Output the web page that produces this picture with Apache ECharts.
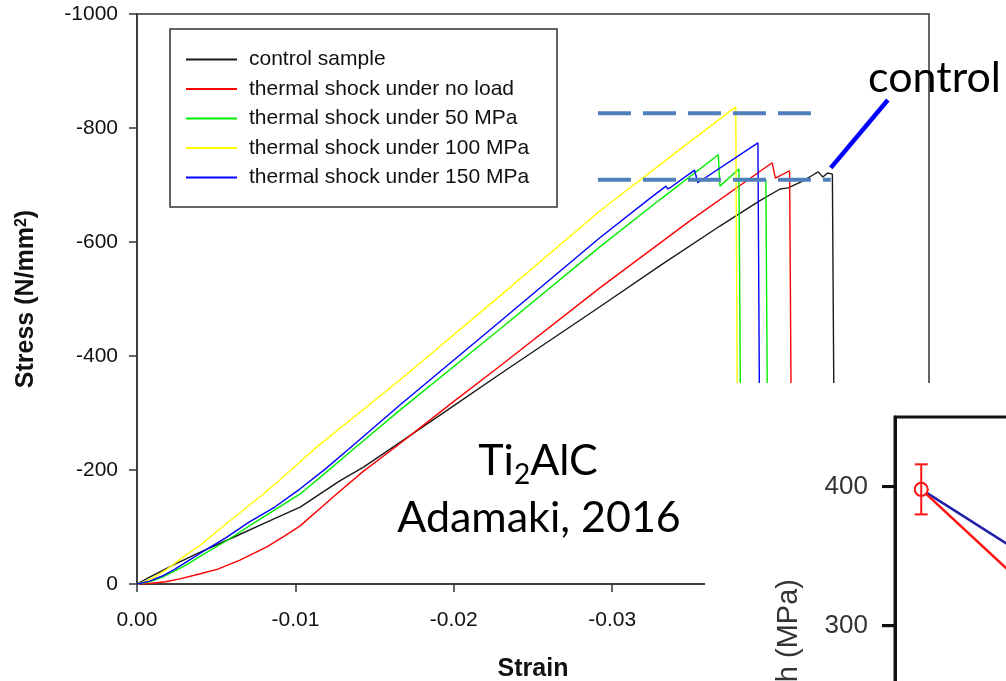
<!DOCTYPE html>
<html>
<head>
<meta charset="utf-8">
<title>Ti2AlC stress-strain</title>
<script src="https://cdn.jsdelivr.net/npm/echarts@6/dist/echarts.min.js"></script>
<style>
  html, body { margin: 0; padding: 0; background: #fff; }
  #chart { width: 1006px; height: 681px; }
</style>
</head>
<body>
<div id="chart"></div>
<script>
// Compressive stress-strain curves, [strain, stress (N/mm2)]
const controlSample = [
  [0, 0], [-0.0008, -12], [-0.0024, -35], [-0.0040, -56], [-0.0061, -82], [-0.0084, -111],
  [-0.0103, -135], [-0.0128, -181], [-0.0143, -205], [-0.0160, -237], [-0.0198, -309],
  [-0.0229, -368], [-0.0292, -486], [-0.0330, -558], [-0.0368, -628], [-0.0393, -672],
  [-0.0406, -693], [-0.0411, -695], [-0.0419, -705], [-0.0427, -718], [-0.0430, -723],
  [-0.0433, -714], [-0.0436, -721], [-0.0439, -719], [-0.0440, -300]
];
const shockNoLoad = [
  [0, 0], [-0.0008, -1], [-0.0018, -4], [-0.0027, -9], [-0.0040, -18], [-0.0051, -26],
  [-0.0065, -42], [-0.0082, -65], [-0.0093, -84], [-0.0103, -102], [-0.0124, -153],
  [-0.0143, -198], [-0.0163, -240], [-0.0198, -316], [-0.0229, -382], [-0.0292, -519],
  [-0.0349, -637], [-0.0401, -739], [-0.0403, -712], [-0.0412, -725], [-0.0413, -300]
];
const shock50 = [
  [0, 0], [-0.0008, -4], [-0.0016, -12], [-0.0024, -23], [-0.0032, -35], [-0.0040, -49],
  [-0.0056, -75], [-0.0071, -102], [-0.0087, -130], [-0.0103, -158], [-0.0119, -195],
  [-0.0136, -235], [-0.0166, -305], [-0.0229, -447], [-0.0292, -591], [-0.0330, -674],
  [-0.0367, -753], [-0.0368, -698], [-0.0380, -728], [-0.0381, -300],
  null,
  [-0.0381, -709], [-0.0397, -709], [-0.0398, -300]
];
const shock100 = [
  [0, 0], [-0.0005, -4], [-0.0011, -12], [-0.0019, -26], [-0.0030, -49], [-0.0040, -68],
  [-0.0052, -96], [-0.0065, -125], [-0.0078, -154], [-0.0090, -182], [-0.0112, -237],
  [-0.0166, -358], [-0.0229, -505], [-0.0292, -654], [-0.0343, -763], [-0.0378, -837],
  [-0.0379, -300]
];
const shock150 = [
  [0, 0], [-0.0008, -5], [-0.0016, -14], [-0.0024, -26], [-0.0032, -40], [-0.0040, -54],
  [-0.0056, -81], [-0.0071, -109], [-0.0087, -135], [-0.0103, -167], [-0.0119, -202],
  [-0.0133, -235], [-0.0166, -314], [-0.0229, -460], [-0.0292, -607], [-0.0324, -677],
  [-0.0334, -698], [-0.0335, -693], [-0.0337, -696], [-0.0352, -726], [-0.0354, -704],
  [-0.0392, -774], [-0.0393, -300]
];

const seriesNames = [
  'control sample',
  'thermal shock under no load',
  'thermal shock under 50 MPa',
  'thermal shock under 100 MPa',
  'thermal shock under 150 MPa'
];
const seriesColors = ['#1a1a1a', '#ff0000', '#00ee00', '#ffff00', '#0000ff'];

// Strength levels marked with dashed lines, and the pointer to the control curve
const upperLevel = [[-0.0291, -826], [-0.0428, -826]];
const lowerLevel = [[-0.0291, -709], [-0.0438, -709]];
const controlPointer = [[-0.0438, -730], [-0.0474, -849]];

// Strength panel (MPa)
const panelXMin = -0.25;
const panelXMax = 3.75;
const panelX = [0, 1];
const panelRed = [398, 328];
const panelBlue = [398, 350];
const panelRedError = [[0, 380, 416]];
const panelTicks = [200, 300, 400];

const FONT = "'Liberation Sans', Arial, sans-serif";
const NOTE_FONT = "Lato, 'Open Sans', sans-serif";

const chart = echarts.init(document.getElementById('chart'), null, { renderer: 'canvas' });

const curveSeries = [controlSample, shockNoLoad, shock50, shock100, shock150].map((d, i) => ({
  name: seriesNames[i],
  type: 'line',
  xAxisIndex: 0,
  yAxisIndex: 0,
  data: d,
  symbol: 'none',
  connectNulls: false,
  lineStyle: { color: seriesColors[i], width: 1.4 },
  itemStyle: { color: seriesColors[i] },
  z: 2
}));

const levelStyle = { color: '#4f7fbd', width: 4, type: [33, 12] };

const graphicElements = [
  {
    type: 'rect', silent: true, z: 3,
    shape: { x: 170, y: 29, width: 387, height: 178 },
    style: { fill: 'transparent', stroke: '#333', lineWidth: 1.5 }
  },
  {
    type: 'text', silent: true, z: 10, x: 538, y: 461,
    style: {
      text: '{main|Ti}{sub|2}{main|AlC}', textAlign: 'center', textVerticalAlign: 'middle',
      font: '43px ' + NOTE_FONT, fill: '#000',
      rich: {
        main: { fontFamily: NOTE_FONT, fontSize: 43, lineHeight: 56, fill: '#000' },
        sub: { fontFamily: NOTE_FONT, fontSize: 28, lineHeight: 28, verticalAlign: 'bottom', fill: '#000' }
      }
    }
  },
  {
    type: 'text', silent: true, z: 10, x: 539, y: 518,
    style: { text: 'Adamaki, 2016', textAlign: 'center', textVerticalAlign: 'middle', font: '43px ' + NOTE_FONT, fill: '#000' }
  },
  {
    type: 'text', silent: true, z: 10, x: 868, y: 78,
    style: { text: 'control', textAlign: 'left', textVerticalAlign: 'middle', font: '43px ' + NOTE_FONT, fill: '#000' }
  },
  {
    // white panel laid over the lower right corner of the stress-strain plot
    type: 'rect', silent: true, z: 50,
    shape: { x: 705, y: 383, width: 301, height: 298 },
    style: { fill: '#ffffff' }
  },
  {
    type: 'text', silent: true, z: 61, x: 789, y: 579, rotation: Math.PI / 2,
    style: { text: 'Flexural strength (MPa)', textAlign: 'right', textVerticalAlign: 'middle', font: '29px ' + FONT, fill: '#333' }
  }
];

const option = {
  animation: false,
  backgroundColor: '#ffffff',
  grid: [
    { left: 137, right: 77, top: 14, bottom: 97, show: true, borderColor: '#333', borderWidth: 1.5, outerBoundsMode: 'none' },
    { left: 895, top: 417, width: 420, height: 487, show: true, borderColor: '#111', borderWidth: 3, z: 60, outerBoundsMode: 'none' }
  ],
  legend: {
    data: seriesNames,
    orient: 'vertical',
    left: 186,
    top: 49,
    padding: 0,
    icon: 'rect',
    itemWidth: 51,
    itemHeight: 2,
    itemGap: 8.5,
    textStyle: { fontFamily: FONT, fontSize: 21, color: '#111', lineHeight: 21, padding: [0, 0, 0, 7] },
    selectedMode: false,
    z: 5
  },
  xAxis: [
    {
      type: 'value', gridIndex: 0, min: -0.05, max: 0, interval: 0.01, inverse: true,
      axisLine: { onZero: false, lineStyle: { color: '#333', width: 1.5 } },
      axisTick: { length: 8, lineStyle: { color: '#333', width: 1.5 } },
      axisLabel: { formatter: v => v.toFixed(2), fontFamily: FONT, fontSize: 21, color: '#111', margin: 26 },
      splitLine: { show: false },
      name: 'Strain', nameLocation: 'middle', nameGap: 73,
      nameTextStyle: { fontFamily: FONT, fontSize: 25, fontWeight: 'bold', color: '#111' }
    },
    {
      type: 'value', gridIndex: 1, min: panelXMin, max: panelXMax, show: false
    }
  ],
  yAxis: [
    {
      type: 'value', gridIndex: 0, min: -1000, max: 0, interval: 200, inverse: true,
      axisLine: { onZero: false, lineStyle: { color: '#333', width: 1.5 } },
      axisTick: { length: 8, lineStyle: { color: '#333', width: 1.5 } },
      axisLabel: { formatter: v => String(v), fontFamily: FONT, fontSize: 21, color: '#111', margin: 19 },
      splitLine: { show: false },
      name: 'Stress (N/mm{sup|2})', nameLocation: 'middle', nameGap: 98,
      nameTextStyle: {
        fontFamily: FONT, fontSize: 25, fontWeight: 'bold', color: '#111',
        rich: { sup: { fontFamily: FONT, fontSize: 16, fontWeight: 'bold', color: '#111', verticalAlign: 'top', lineHeight: 10 } }
      }
    },
    {
      type: 'value', gridIndex: 1, min: 100, max: 450, z: 60,
      axisLine: { show: true, onZero: false, lineStyle: { color: '#111', width: 3 } },
      axisTick: { show: true, length: 13, customValues: panelTicks, lineStyle: { color: '#111', width: 3 } },
      axisLabel: { customValues: panelTicks, fontFamily: FONT, fontSize: 26, color: '#333', margin: 27 },
      splitLine: { show: false }
    }
  ],
  graphic: { elements: graphicElements },
  series: [
    ...curveSeries,
    { name: 'upper level', type: 'line', data: upperLevel, symbol: 'none', silent: true, lineStyle: levelStyle, z: 4 },
    { name: 'lower level', type: 'line', data: lowerLevel, symbol: 'none', silent: true, lineStyle: levelStyle, z: 4 },
    { name: 'pointer', type: 'line', data: controlPointer, symbol: 'none', silent: true, lineStyle: { color: '#0000ff', width: 4.5 }, z: 4 },
    {
      name: 'panel blue', type: 'line', xAxisIndex: 1, yAxisIndex: 1,
      data: panelX.map((x, i) => [x, panelBlue[i]]),
      symbol: 'emptyCircle', symbolSize: 12, showSymbol: true,
      lineStyle: { color: '#1f1fa8', width: 2.5 }, itemStyle: { color: '#1f1fa8', borderWidth: 2 },
      z: 61, silent: true
    },
    {
      name: 'panel red', type: 'line', xAxisIndex: 1, yAxisIndex: 1,
      data: panelX.map((x, i) => [x, panelRed[i]]),
      symbol: 'emptyCircle', symbolSize: 13, showSymbol: true,
      lineStyle: { color: '#ff1414', width: 2.5 }, itemStyle: { color: '#ff1414', borderWidth: 3 },
      z: 62, silent: true
    },
    {
      name: 'panel error', type: 'custom', xAxisIndex: 1, yAxisIndex: 1,
      data: panelRedError, encode: { x: 0, y: [1, 2] }, z: 63, silent: true,
      renderItem: (params, api) => {
        const x = api.value(0);
        const lo = api.coord([x, api.value(1)]);
        const hi = api.coord([x, api.value(2)]);
        const w = 6.5;
        const st = { stroke: '#ff1414', lineWidth: 2 };
        return {
          type: 'group',
          children: [
            { type: 'line', shape: { x1: lo[0], y1: lo[1], x2: hi[0], y2: hi[1] }, style: st },
            { type: 'line', shape: { x1: lo[0] - w, y1: lo[1], x2: lo[0] + w, y2: lo[1] }, style: st },
            { type: 'line', shape: { x1: hi[0] - w, y1: hi[1], x2: hi[0] + w, y2: hi[1] }, style: st }
          ]
        };
      }
    }
  ]
};

chart.setOption(option);

// Outward tick marks on the strength axis, on a top layer, positioned through the axis scale
try {
  const axisX = chart.convertToPixel({ xAxisIndex: 1 }, panelXMin);
  const tickMarks = panelTicks.map(v => {
    const y = chart.convertToPixel({ yAxisIndex: 1 }, v);
    return {
      type: 'line', silent: true, zlevel: 1, z: 70,
      shape: { x1: axisX - 13, y1: y, x2: axisX, y2: y },
      style: { stroke: '#111', lineWidth: 3 }
    };
  });
  chart.setOption({ graphic: { elements: graphicElements.concat(tickMarks) } });
} catch (e) {
  console.error(e);
}
</script>
</body>
</html>
